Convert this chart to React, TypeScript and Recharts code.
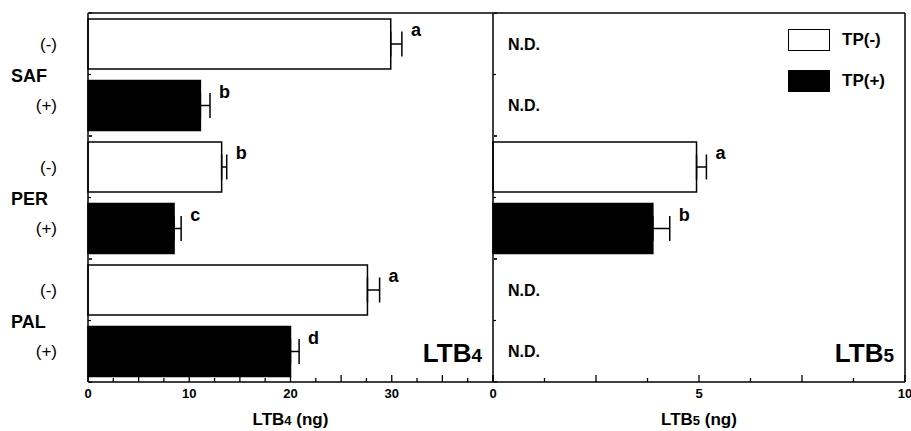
import { BarChart, Bar, XAxis, YAxis, Cell, ErrorBar, LabelList, Label, Legend } from 'recharts';

const groups = ['SAF', 'PER', 'PAL'];
const treatments = ['(-)', '(+)'];
const ltb4Values = [29.9, 11.1, 13.2, 8.5, 27.6, 20.0];
const ltb4Errors = [1.1, 0.95, 0.5, 0.7, 1.2, 0.85];
const ltb4Letters = ['a', 'b', 'b', 'c', 'a', 'd'];
const ltb5Values = [null, null, 4.94, 3.88, null, null];
const ltb5Errors = [null, null, 0.24, 0.41, null, null];
const ltb5Letters = [null, null, 'a', 'b', null, null];
const ltb4Ticks = [0, 2.5, 5, 7.5, 10, 12.5, 15, 17.5, 20, 22.5, 25, 27.5, 30, 32.5, 35, 37.5, 40];
const ltb4Labeled = [0, 10, 20, 30];
const ltb5Ticks = [0, 1.25, 2.5, 3.75, 5, 6.25, 7.5, 8.75, 10];
const ltb5Labeled = [0, 5, 10];
const legendItems = ['TP(-)', 'TP(+)'];

const FONT = '"Liberation Sans", Arial, Helvetica, sans-serif';
const fills = ['#ffffff', '#000000'];

const rows = groups.flatMap((g, gi) =>
  treatments.map((t, ti) => {
    const i = gi * 2 + ti;
    return {
      row: `${g} ${t}`,
      group: g,
      // pairs (+) of one group with (-) of the next, so a point scale lands between groups
      seam: Math.floor((i + 1) / 2),
      idx: i,
      treat: ti,
      ltb4: ltb4Values[i],
      ltb4Err: [0, ltb4Errors[i]],
      ltb5: ltb5Values[i],
      ltb5Err: ltb5Errors[i] == null ? null : [0, ltb5Errors[i]],
    };
  })
);

function xTick(majorStep: number, labeled: number[]) {
  return (p: any) => {
    const v = p.payload.value;
    const major = Math.abs(v / majorStep - Math.round(v / majorStep)) < 1e-6;
    return (
      <g>
        <line x1={p.x} x2={p.x} y1={p.y} y2={p.y - (major ? 7 : 4)} stroke="#000" strokeWidth={1.3} />
        {labeled.includes(v) && (
          <text x={p.x} y={p.y + 16} textAnchor="middle" fontFamily={FONT} fontWeight="bold" fontSize={13} fill="#000">
            {v}
          </text>
        )}
      </g>
    );
  };
}

// letter sits just past the error-bar cap; cap offset comes from the bar's own pixel length
function letterLabel(values: (number | null)[], errors: (number | null)[], letters: (string | null)[]) {
  return (p: any) => {
    const i = p.value;
    const v = values[i];
    const e = errors[i];
    const letter = letters[i];
    if (v == null || e == null || !letter) return null;
    const vb = p.viewBox || p;
    const w = vb.width ?? p.width;
    const h = vb.height ?? p.height;
    const ext = (w * e) / v;
    return (
      <text x={vb.x + w + ext + 9} y={vb.y + h / 2 - 8} fontFamily={FONT} fontWeight="bold" fontSize={18} fill="#000">
        {letter}
      </text>
    );
  };
}

function axisTitle(num: string) {
  return (p: any) => {
    const vb = p.viewBox;
    return (
      <text x={vb.x + vb.width / 2} y={vb.y + 43} textAnchor="middle" fontFamily={FONT} fontWeight="bold" fontSize={17} fill="#000">
        LTB<tspan fontSize={13}>{num}</tspan> (ng)
      </text>
    );
  };
}

function panelLabel(num: string) {
  return (p: any) => {
    const vb = p.viewBox;
    return (
      <text x={vb.x + vb.width - 11} y={vb.y - 20} textAnchor="end" fontFamily={FONT} fontWeight="bold" fontSize={26} fill="#000">
        LTB<tspan fontSize={19}>{num}</tspan>
      </text>
    );
  };
}

function TreatmentTick(p: any) {
  const t = rows[p.index]?.treat ?? 0;
  return (
    <text x={p.x - 31} y={p.y + 6} textAnchor="end" fontFamily={FONT} fontSize={17} fill="#000">
      {treatments[t]}
    </text>
  );
}

function GroupTick(p: any) {
  return (
    <text x={p.x - 80} y={p.y + 7} fontFamily={FONT} fontWeight="bold" fontSize={18} fill="#000">
      {p.payload.value}
    </text>
  );
}

function NDTick(p: any) {
  const r = rows[p.index];
  if (!r || r.ltb5 != null) return null;
  return (
    <text x={p.x + 15} y={p.y + 6} fontFamily={FONT} fontWeight="bold" fontSize={16} fill="#000">
      N.D.
    </text>
  );
}

function LegendBox() {
  return (
    <div style={{ fontFamily: FONT }}>
      {legendItems.map((name, i) => (
        <div key={name} style={{ display: 'flex', alignItems: 'center', height: 22, marginBottom: 19 }}>
          <div style={{ width: 40, height: 20, border: '1.5px solid #000', background: fills[i] }} />
          <span style={{ marginLeft: 12, fontSize: 17, fontWeight: 'bold', color: '#000' }}>{name}</span>
        </div>
      ))}
    </div>
  );
}

const axisLine = { stroke: '#000', strokeWidth: 1.5 };
const rowTickLine = { stroke: '#000', strokeWidth: 1.2 };

// inward boundary ticks: group centres (band scale) and seams between groups (point scale)
function boundaryAxes(withLabels: boolean) {
  return [
    <YAxis
      key="grp"
      yAxisId="grp"
      type="category"
      dataKey="group"
      allowDuplicatedCategory={false}
      interval={0}
      mirror
      width={1}
      tickSize={3}
      tickMargin={0}
      axisLine={false}
      tickLine={rowTickLine}
      tick={withLabels ? GroupTick : () => <g />}
    />,
    <YAxis
      key="seam"
      yAxisId="seam"
      type="category"
      dataKey="seam"
      scale="point"
      allowDuplicatedCategory={false}
      interval={0}
      mirror
      width={1}
      tickSize={3}
      tickMargin={0}
      axisLine={false}
      tickLine={rowTickLine}
      tick={() => <g />}
    />,
  ];
}

export default function App() {
  return (
    <div style={{ position: 'absolute', left: 0, top: 0, width: 911, height: 431, background: '#fff', fontFamily: FONT }}>
      <div style={{ position: 'absolute', left: 0, top: 0 }}>
        <BarChart width={494} height={431} data={rows} layout="vertical" margin={{ top: 12, right: 1, bottom: 0, left: 0 }}>
          <XAxis xAxisId="top" orientation="top" type="number" domain={[0, 40]} height={1} tick={false} tickLine={false} axisLine={axisLine} />
          <XAxis
            type="number"
            domain={[0, 40]}
            ticks={ltb4Ticks}
            interval={0}
            height={49}
            tickSize={0}
            tickMargin={0}
            tickLine={false}
            axisLine={axisLine}
            tick={xTick(5, ltb4Labeled)}
          >
            <Label content={axisTitle('4')} />
            <Label content={panelLabel('4')} />
          </XAxis>
          <YAxis type="category" dataKey="row" width={88} tickSize={0} tickMargin={0} tickLine={false} axisLine={axisLine} tick={TreatmentTick} interval={0} />
          {boundaryAxes(true)}
          <Bar dataKey="ltb4" barSize={50} stroke="#000" strokeWidth={1.5} isAnimationActive={false}>
            {rows.map((r) => (
              <Cell key={r.row} fill={fills[r.treat]} />
            ))}
            <ErrorBar dataKey="ltb4Err" direction="x" width={12.5} stroke="#000" strokeWidth={1.5} isAnimationActive={false} />
            <LabelList dataKey="idx" content={letterLabel(ltb4Values, ltb4Errors, ltb4Letters)} />
          </Bar>
        </BarChart>
      </div>
      <div style={{ position: 'absolute', left: 488, top: 0 }}>
        <BarChart width={423} height={431} data={rows} layout="vertical" margin={{ top: 12, right: 5, bottom: 0, left: 4 }}>
          <XAxis xAxisId="top" orientation="top" type="number" domain={[0, 10]} height={1} tick={false} tickLine={false} axisLine={axisLine} />
          <XAxis
            type="number"
            domain={[0, 10]}
            ticks={ltb5Ticks}
            interval={0}
            height={49}
            tickSize={0}
            tickMargin={0}
            tickLine={false}
            axisLine={axisLine}
            tick={xTick(2.5, ltb5Labeled)}
          >
            <Label content={axisTitle('5')} />
            <Label content={panelLabel('5')} />
          </XAxis>
          <YAxis type="category" dataKey="row" width={1} tickSize={0} tickMargin={0} tickLine={false} axisLine={axisLine} tick={NDTick} interval={0} />
          {boundaryAxes(false)}
          <YAxis yAxisId="edge" orientation="right" type="number" domain={[0, 1]} width={1} tick={false} tickLine={false} axisLine={axisLine} />
          <Legend
            layout="vertical"
            align="center"
            verticalAlign="middle"
            content={<LegendBox />}
            wrapperStyle={{ left: 300, top: 29, width: 120 }}
          />
          <Bar dataKey="ltb5" barSize={50} stroke="#000" strokeWidth={1.5} isAnimationActive={false}>
            {rows.map((r) => (
              <Cell key={r.row} fill={fills[r.treat]} />
            ))}
            <ErrorBar dataKey="ltb5Err" direction="x" width={12.5} stroke="#000" strokeWidth={1.5} isAnimationActive={false} />
            <LabelList dataKey="idx" content={letterLabel(ltb5Values, ltb5Errors, ltb5Letters)} />
          </Bar>
        </BarChart>
      </div>
    </div>
  );
}
